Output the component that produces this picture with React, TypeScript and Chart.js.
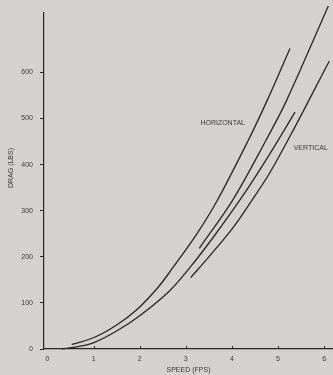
import React, { useEffect, useRef } from "react";
import { Chart, registerables } from "chart.js";

Chart.register(...registerables);

// Tick values
const speedTicks = [0, 1, 2, 3, 4, 5, 6];
const dragTicks = [0, 100, 200, 300, 400, 500, 600];

// Curve 1: upper horizontal curve (starts near origin)
const upperSpeed = [0.525, 1.01, 1.5, 1.935, 2.4, 2.73, 3.24, 3.67, 4.356, 4.768, 5.26];
const upperDrag = [9.8, 25, 52, 85, 134, 178, 250, 320, 453, 540, 652];

// Curve 2: second curve (starts at 3.3, runs past top)
const secondSpeed = [3.293, 4.017, 4.74, 5.189, 6.091];
const secondDrag = [218.5, 323, 453, 540, 744];

// Curve 3: lower curve from origin
const lowerSpeed = [0.308, 0.6, 1.009, 1.5, 2.0, 2.657, 3.091, 3.6, 4.234, 4.826, 5.369];
const lowerDrag = [0, 4, 14, 39, 72, 127, 177, 243, 332, 424, 514];

// Curve 4: vertical curve (starts at 3.1)
const verticalSpeed = [3.106, 3.5, 4.0, 4.43, 4.826, 5.332, 6.113];
const verticalDrag = [155, 200, 260, 322, 383, 475, 625];

const curveLabels = ["HORIZONTAL", "VERTICAL"];
const labelSpeed = [3.8, 5.71];
const labelDrag = [491, 437];

const xTitle = "SPEED (FPS)";
const yTitle = "DRAG (LBS)";

const PAPER = "#d3d2ce";
const INK = "#262626";
const TEXT = "#3a3a3a";
const FONT = "'Liberation Sans', Arial, sans-serif";

const toPts = (xs: number[], ys: number[]) => xs.map((x, i) => ({ x, y: ys[i] }));

export default function App() {
  const ref = useRef<HTMLCanvasElement | null>(null);

  useEffect(() => {
    document.body.style.margin = "0";
    document.body.style.background = PAPER;
    const canvas = ref.current;
    if (!canvas) return;

    const decor = {
      id: "decor",
      beforeDraw(chart: any) {
        const c = chart.ctx;
        c.save();
        c.fillStyle = PAPER;
        c.fillRect(0, 0, chart.width, chart.height);
        c.restore();
      },
      afterDraw(chart: any) {
        const c = chart.ctx;
        const xs = chart.scales.x;
        const ys = chart.scales.y;
        c.save();
        c.strokeStyle = INK;
        c.lineWidth = 1;
        const y0 = ys.getPixelForValue(0);
        speedTicks.forEach((v) => {
          if (v === 0) return;
          const px = Math.round(xs.getPixelForValue(v)) + 0.5;
          c.beginPath();
          c.moveTo(px, y0);
          c.lineTo(px, y0 - 3);
          c.stroke();
        });
        c.fillStyle = TEXT;
        c.font = `7px ${FONT}`;
        c.textAlign = "center";
        c.textBaseline = "middle";
        c.save();
        c.translate(11, 168);
        c.rotate(-Math.PI / 2);
        c.fillText(yTitle, 0, 0);
        c.restore();
        curveLabels.forEach((t, i) => {
          c.fillText(t, xs.getPixelForValue(labelSpeed[i]), ys.getPixelForValue(labelDrag[i]));
        });
        c.restore();
      },
    };

    const ds = (xs: number[], ys: number[]) => ({
      data: toPts(xs, ys),
      borderColor: INK,
      borderWidth: 1.3,
      pointRadius: 0,
      fill: false,
      tension: 0.35,
      clip: false as any,
    });

    const chart = new Chart(canvas, {
      type: "line",
      data: {
        datasets: [
          ds(upperSpeed, upperDrag),
          ds(secondSpeed, secondDrag),
          ds(lowerSpeed, lowerDrag),
          ds(verticalSpeed, verticalDrag),
        ],
      },
      options: {
        animation: false,
        responsive: false,
        devicePixelRatio: 1,
        layout: { padding: { top: 13, right: 0, left: 0, bottom: 0 } },
        plugins: { legend: { display: false }, tooltip: { enabled: false } },
        scales: {
          x: {
            type: "linear",
            min: -0.076,
            max: 6.193,
            afterBuildTicks: (s: any) => {
              s.ticks = speedTicks.map((v) => ({ value: v }));
            },
            afterFit: (s: any) => {
              s.height = 26;
            },
            grid: { display: true, drawOnChartArea: false, drawTicks: false },
            border: { display: true, color: INK, width: 1.2 },
            ticks: {
              font: { family: FONT, size: 7 },
              color: TEXT,
              padding: 6,
              maxRotation: 0,
              autoSkip: false,
            },
            title: {
              display: true,
              text: xTitle,
              font: { family: FONT, size: 7 },
              color: TEXT,
              padding: { top: 0, bottom: 1 },
            },
          },
          y: {
            type: "linear",
            min: 0,
            max: 729,
            afterBuildTicks: (s: any) => {
              s.ticks = dragTicks.map((v) => ({ value: v }));
            },
            afterFit: (s: any) => {
              s.width = 44;
            },
            grid: {
              display: true,
              drawOnChartArea: false,
              drawTicks: true,
              tickLength: 4,
              color: INK,
            },
            border: { display: true, color: INK, width: 1.2 },
            ticks: {
              font: { family: FONT, size: 7 },
              color: TEXT,
              padding: 7,
              autoSkip: false,
            },
          },
        },
      },
      plugins: [decor],
    });

    return () => chart.destroy();
  }, []);

  return (
    <div style={{ width: 333, height: 375, background: PAPER }}>
      <canvas ref={ref} width={333} height={375} style={{ display: "block" }} />
    </div>
  );
}
